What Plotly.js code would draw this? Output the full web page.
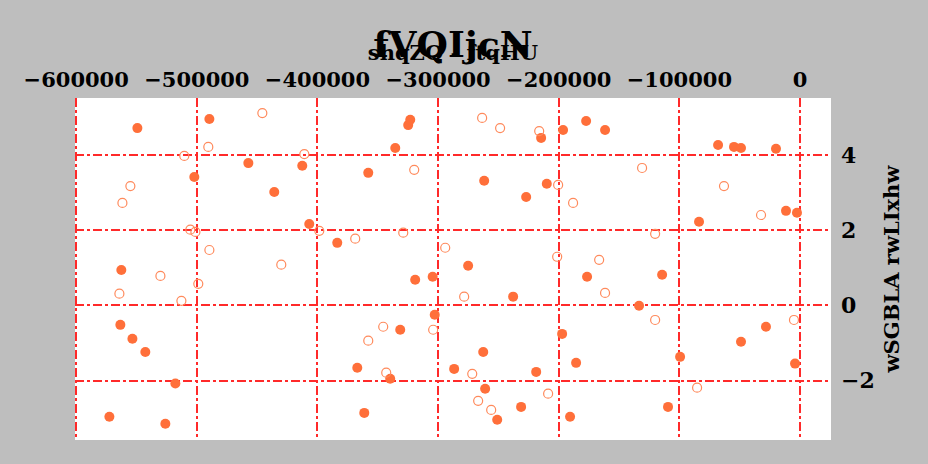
<!DOCTYPE html>
<html>
<head>
<meta charset="utf-8">
<script src="https://cdn.plot.ly/plotly-3.0.1.min.js"></script>
<style>html,body{margin:0;padding:0;background:#bebebe;}#chart{width:928px;height:464px;}</style>
</head>
<body>
<div id="chart"></div>
<script>
const filledX = [-549300,-489600,-502100,-457300,-435800,-412600,-406800,-383600,-357900,-335500,-324800,-323100,-319000,-304500,-302800,-331400,-339700,-367000,-361200,-286700,-275100,-261800,-262600,-261000,-251000,-237800,-231200,-227000,-218700,-214600,-209900,-196400,-177300,-161600,-197200,-176500,-185600,-190600,-133400,-114300,-109400,-99400,-83700,-67900,-54700,-48900,-19900,-11600,-2500,-48900,-28200,-4100,-562600,-563400,-553400,-542700,-517800,-572500,-526100];
const filledY = [4.71,4.95,3.41,3.78,3.01,3.71,2.16,1.66,3.52,4.18,4.79,4.93,0.68,0.76,-0.25,-0.65,-1.95,-1.66,-2.86,-1.69,1.05,3.31,-1.24,-2.22,-3.04,0.23,-2.70,2.88,-1.77,4.45,3.23,4.66,4.90,4.66,-0.76,0.76,-1.53,-2.96,-0.01,0.81,-2.70,-1.37,2.22,4.26,4.21,4.18,4.16,2.51,2.46,-0.97,-0.57,-1.55,0.94,-0.52,-0.89,-1.24,-2.08,-2.96,-3.15];
const openX = [-445700,-510400,-490500,-410900,-555100,-561700,-505400,-501200,-398500,-368700,-489600,-430000,-530200,-263500,-248600,-216200,-319800,-130900,-200500,-188100,-328900,-294100,-201300,-166500,-63000,-32300,-120100,-498800,-564200,-512800,-278400,-304100,-345500,-357900,-343000,-271700,-266800,-256000,-208800,-161600,-120100,-85300,-5000];
const openY = [5.11,3.97,4.21,4.02,3.17,2.72,2.01,1.95,1.98,1.77,1.47,1.08,0.78,4.98,4.71,4.63,3.60,3.65,3.20,2.72,1.93,1.53,1.29,1.21,3.17,2.40,1.90,0.57,0.31,0.12,0.23,-0.65,-0.57,-0.94,-1.79,-1.82,-2.54,-2.78,-2.35,0.33,-0.39,-2.19,-0.39];
const xTicks = [-600000,-500000,-400000,-300000,-200000,-100000,0];
const yTicks = [-2,0,2,4];
const titleText = "fVQIjcN";
const xTitle = "shqZQ - ftqHU";
const yTitle = "wSGBLA rwLIxhw";

const fontFam = "DejaVu Serif, serif";
const traces = [
  {x: filledX, y: filledY, type: 'scatter', mode: 'markers',
   marker: {symbol: 'circle', size: 10, color: '#ff6f3a', line: {width: 0}}, showlegend: false},
  {x: openX, y: openY, type: 'scatter', mode: 'markers',
   marker: {symbol: 'circle-open', size: 9, color: '#ff8a5c', line: {width: 1.2}}, showlegend: false}
];
const gridStyle = {color: '#ff2a2a', width: 2, dash: 'dashdot'};
const layout = {
  width: 928, height: 464,
  paper_bgcolor: '#bebebe', plot_bgcolor: '#ffffff',
  margin: {l: 75, r: 97, t: 98, b: 24},
  title: {text: titleText, font: {family: fontFam, size: 36, color: '#000', weight: 'bold'},
          x: 0.488, xanchor: 'center', y: 0.905, yanchor: 'middle', yref: 'container'},
  xaxis: {side: 'top', range: [-601000, 25700], tickvals: xTicks,
          ticktext: xTicks.map(v => v === 0 ? '0' : '\u2212' + Math.abs(v)),
          tickangle: 0,
          showgrid: true, gridcolor: gridStyle.color, gridwidth: gridStyle.width, griddash: gridStyle.dash,
          zeroline: false, showline: false, ticks: '', ticklabelstandoff: 6,
          tickfont: {family: fontFam, size: 21, color: '#000', weight: 'bold'},
          title: {text: xTitle, font: {family: fontFam, size: 21, color: '#000', weight: 'bold'}, standoff: 0}},
  yaxis: {side: 'right', range: [-3.58, 5.51], tickvals: yTicks,
          ticktext: yTicks.map(v => v < 0 ? '\u2212' + Math.abs(v) : String(v)),
          tickangle: 0,
          showgrid: true, gridcolor: gridStyle.color, gridwidth: gridStyle.width, griddash: gridStyle.dash,
          zeroline: false, showline: false, ticks: '', ticklabelstandoff: 9,
          tickfont: {family: fontFam, size: 22, color: '#000', weight: 'bold'},
          title: {text: yTitle, font: {family: fontFam, size: 21, color: '#000', weight: 'bold'}, standoff: 10}}
};
Plotly.newPlot('chart', traces, layout, {displayModeBar: false, staticPlot: true});
</script>
</body>
</html>
